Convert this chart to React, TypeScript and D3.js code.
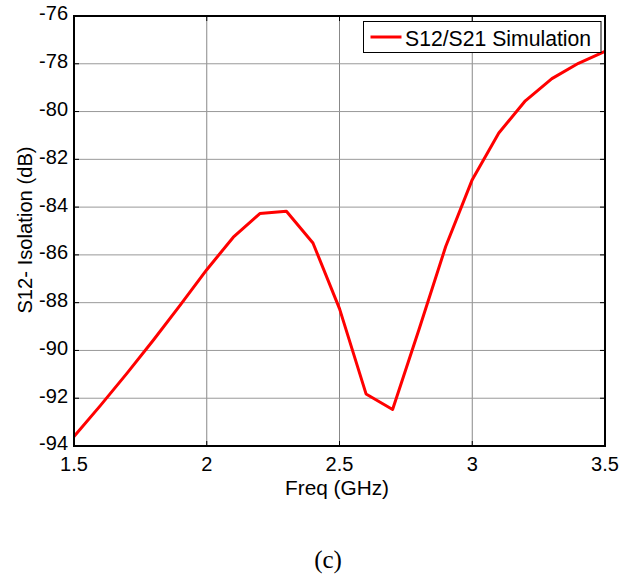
import React from "react";
import * as d3 from "d3";

const freqs = [1.5, 1.6, 1.7, 1.8, 1.9, 2.0, 2.1, 2.2, 2.3, 2.4, 2.5, 2.6, 2.7, 2.8, 2.9, 3.0, 3.1, 3.2, 3.3, 3.4, 3.5];
const s12 = [-93.6, -92.3, -90.95, -89.55, -88.1, -86.62, -85.26, -84.27, -84.17, -85.5, -88.25, -91.82, -92.47, -89.1, -85.65, -82.85, -80.9, -79.55, -78.62, -77.98, -77.48];
const xTicks = [1.5, 2, 2.5, 3, 3.5];
const yTicks = [-94, -92, -90, -88, -86, -84, -82, -80, -78, -76];
const seriesName = "S12/S21 Simulation";
const xTitle = "Freq (GHz)";
const yTitle = "S12- Isolation (dB)";
const caption = "(c)";

const W = 624, H = 577;
const L = 74, R = 605, T = 16, B = 446;
const font = "'Liberation Sans', Arial, sans-serif";

export default function App() {
  const x = d3.scaleLinear().domain([1.5, 3.5]).range([L, R]);
  const y = d3.scaleLinear().domain([-94, -76]).range([B, T]);
  const line = d3.line<number>().x((_, i) => x(freqs[i])).y((d) => y(d));
  const tl = 5;
  return (
    <svg width={W} height={H} style={{ position: "absolute", left: 0, top: 0, background: "#fff" }}>
      <rect x={0} y={0} width={W} height={H} fill="#fff" />
      {xTicks.slice(1, -1).map((t) => (
        <line key={"gx" + t} x1={x(t)} x2={x(t)} y1={T} y2={B} stroke="#888" strokeWidth={1} />
      ))}
      {yTicks.slice(1, -1).map((t) => (
        <line key={"gy" + t} x1={L} x2={R} y1={y(t)} y2={y(t)} stroke="#999" strokeWidth={1} />
      ))}
      {xTicks.map((t) => (
        <g key={"tx" + t}>
          <line x1={x(t)} x2={x(t)} y1={B} y2={B - tl} stroke="#000" />
          <line x1={x(t)} x2={x(t)} y1={T} y2={T + tl} stroke="#000" />
          <text x={x(t)} y={471} textAnchor="middle" fontFamily={font} fontSize={20} fill="#000">{String(t)}</text>
        </g>
      ))}
      {yTicks.map((t) => (
        <g key={"ty" + t}>
          <line x1={L} x2={L + tl} y1={y(t)} y2={y(t)} stroke="#000" />
          <line x1={R} x2={R - tl} y1={y(t)} y2={y(t)} stroke="#000" />
          <text x={68} y={y(t)} dy="0.22em" textAnchor="end" fontFamily={font} fontSize={20} fill="#000">{String(t)}</text>
        </g>
      ))}
      <path d={line(s12) || ""} fill="none" stroke="#ff0000" strokeWidth={3} strokeLinejoin="round" />
      <rect x={L} y={T} width={R - L} height={B - T} fill="none" stroke="#000" strokeWidth={2} />
      <g>
        <rect x={363.5} y={21.5} width={237.5} height={31} fill="#fff" stroke="#000" strokeWidth={1} />
        <line x1={370.5} x2={401.5} y1={37} y2={37} stroke="#ff0000" strokeWidth={3} />
        <text x={405} y={46} fontFamily={font} fontSize={21.2} fill="#000">{seriesName}</text>
      </g>
      <text x={337} y={495} textAnchor="middle" fontFamily={font} fontSize={20.8} fill="#000">{xTitle}</text>
      <text transform={`translate(32, 230) rotate(-90)`} textAnchor="middle" fontFamily={font} fontSize={20.2} fill="#000">{yTitle}</text>
      <text x={328} y={568} textAnchor="middle" fontFamily="'Liberation Serif', 'Times New Roman', serif" fontSize={25} fill="#000">{caption}</text>
    </svg>
  );
}
